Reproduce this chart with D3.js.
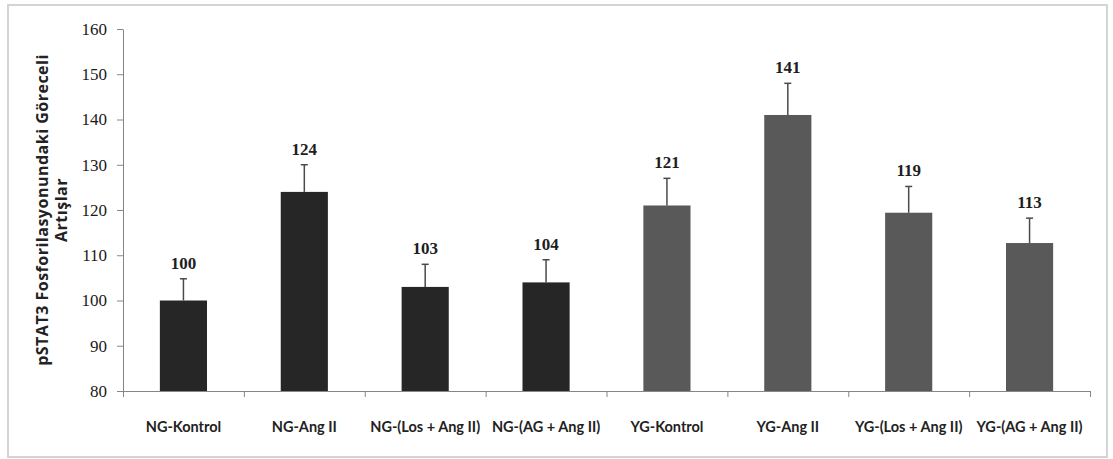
<!DOCTYPE html>
<html>
<head>
<meta charset="utf-8">
<script src="https://cdn.jsdelivr.net/npm/d3@7"></script>
<style>
  body { margin: 0; background: #fff; }
  .axis path, .axis line { stroke: #868686; }
  .axis--y text { font-family: "Liberation Serif", serif; font-size: 17px; fill: #1a1a1a; }
</style>
</head>
<body>
<svg width="1113" height="459"></svg>
<script>
var categories = ["NG-Kontrol", "NG-Ang II", "NG-(Los + Ang II)", "NG-(AG + Ang II)",
                  "YG-Kontrol", "YG-Ang II", "YG-(Los + Ang II)", "YG-(AG + Ang II)"];
var values = [100, 124, 103, 104, 121, 141, 119.4, 112.7];
var errors = [4.8, 6, 5, 5, 6, 7, 5.8, 5.5];
var valueLabels = ["100", "124", "103", "104", "121", "141", "119", "113"];
var groups = ["NG", "NG", "NG", "NG", "YG", "YG", "YG", "YG"];
var yTicks = [80, 90, 100, 110, 120, 130, 140, 150, 160];

var svg = d3.select("svg");
var plot = { left: 123, right: 1090, top: 29, bottom: 391 };
var colors = { NG: "#262626", YG: "#595959" };

// outer frame
svg.append("rect")
    .attr("x", 8).attr("y", 5)
    .attr("width", 1099).attr("height", 452)
    .attr("fill", "#fff")
    .attr("stroke", "#d4d4d4")
    .attr("stroke-width", 2);

var x = d3.scaleBand().domain(categories).range([plot.left, plot.right]).padding(0);
var xb = d3.scaleLinear().domain([0, categories.length]).range([plot.left, plot.right]);
var y = d3.scaleLinear().domain([80, 160]).range([plot.bottom, plot.top]);

var barW = x.bandwidth() * 0.39;

// y axis
svg.append("g")
    .attr("class", "axis axis--y")
    .attr("transform", "translate(" + plot.left + ",0)")
    .call(d3.axisLeft(y).tickValues(yTicks).tickSize(6).tickSizeOuter(0).tickPadding(10));

// bars
svg.selectAll(".bar")
    .data(values)
    .enter().append("rect")
    .attr("class", "bar")
    .attr("x", function(d, i) { return x(categories[i]) + (x.bandwidth() - barW) / 2; })
    .attr("y", function(d) { return y(d); })
    .attr("width", barW)
    .attr("height", function(d) { return y(80) - y(d); })
    .attr("fill", function(d, i) { return colors[groups[i]]; });

// error bars (upper only)
var err = svg.selectAll(".err")
    .data(values)
    .enter().append("g")
    .attr("class", "err")
    .attr("stroke", "#4a4a4a")
    .attr("stroke-width", 1.5);

err.append("line")
    .attr("x1", function(d, i) { return x(categories[i]) + x.bandwidth() / 2; })
    .attr("x2", function(d, i) { return x(categories[i]) + x.bandwidth() / 2; })
    .attr("y1", function(d) { return y(d); })
    .attr("y2", function(d, i) { return y(d + errors[i]); });

err.append("line")
    .attr("x1", function(d, i) { return x(categories[i]) + x.bandwidth() / 2 - 3.5; })
    .attr("x2", function(d, i) { return x(categories[i]) + x.bandwidth() / 2 + 3.5; })
    .attr("y1", function(d, i) { return y(d + errors[i]); })
    .attr("y2", function(d, i) { return y(d + errors[i]); });

// value labels
svg.selectAll(".vlabel")
    .data(values)
    .enter().append("text")
    .attr("class", "vlabel")
    .attr("x", function(d, i) { return x(categories[i]) + x.bandwidth() / 2; })
    .attr("y", function(d, i) { return y(d + errors[i]) - 10; })
    .attr("text-anchor", "middle")
    .attr("font-family", "Liberation Serif, serif")
    .attr("font-weight", "bold")
    .attr("font-size", "17px")
    .attr("fill", "#1e1e1e")
    .text(function(d, i) { return valueLabels[i]; });

// x axis: boundary ticks
svg.append("g")
    .attr("class", "axis axis--x")
    .attr("transform", "translate(0," + plot.bottom + ")")
    .call(d3.axisBottom(xb).tickValues(d3.range(categories.length + 1)).tickSize(6).tickSizeOuter(0).tickFormat(""));

// x category labels
svg.selectAll(".xlabel")
    .data(categories)
    .enter().append("text")
    .attr("class", "xlabel")
    .attr("x", function(d) { return x(d) + x.bandwidth() / 2; })
    .attr("y", 432)
    .attr("text-anchor", "middle")
    .attr("font-family", "Lato, sans-serif")
    .attr("font-weight", "bold")
    .attr("font-size", "14.5px")
    .attr("fill", "#222")
    .text(function(d) { return d; });

// y title, two lines
var title = svg.append("text")
    .attr("transform", "translate(43,210) rotate(-90)")
    .attr("text-anchor", "middle")
    .attr("font-family", "'Open Sans', sans-serif")
    .attr("font-weight", "bold")
    .attr("font-size", "16px")
    .attr("letter-spacing", "0.5px")
    .attr("fill", "#222");
title.append("tspan").attr("x", 0).attr("y", 5).text("pSTAT3 Fosforilasyonundaki Göreceli");
title.append("tspan").attr("x", 0).attr("y", 24).text("Artışlar");
</script>
</body>
</html>
